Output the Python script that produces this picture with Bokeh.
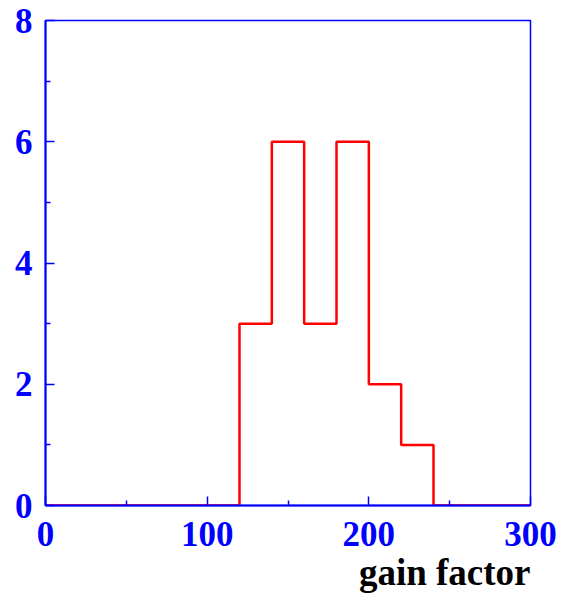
from bokeh.plotting import figure
from bokeh.models import Range1d, FixedTicker, Title
from bokeh.embed import file_html
from bokeh.resources import INLINE

# Histogram data (bin edges and counts)
bin_edges = [0, 20, 40, 60, 80, 100, 120, 140, 160, 180, 200, 220, 240, 260, 280, 300]
counts = [0, 0, 0, 0, 0, 0, 3, 6, 3, 6, 2, 1, 0, 0, 0]
x_major = [0, 100, 200, 300]
x_minor = [50, 150, 250]
y_major = [0, 2, 4, 6, 8]
y_minor = [1, 3, 5, 7]
x_title = "gain factor"

BLUE = "#0000ff"
FONT = "Liberation Serif"

p = figure(width=560, height=594, output_backend="svg", toolbar_location=None,
           x_range=Range1d(0, 300), y_range=Range1d(0, 8),
           min_border_left=45, min_border_right=30, min_border_top=20, min_border_bottom=89)
p.grid.visible = False
p.outline_line_color = BLUE
p.outline_line_width = 1.5
p.background_fill_color = "white"
p.border_fill_color = "white"

ys = counts + [counts[-1]]
p.step(x=bin_edges, y=ys, mode="after", line_color="#ff0000", line_width=2.5)

for ax, maj, mnr, so in ((p.xaxis[0], x_major, x_minor, 16), (p.yaxis[0], y_major, y_minor, 13)):
    ax.ticker = FixedTicker(ticks=maj, minor_ticks=mnr)
    ax.axis_line_color = BLUE
    ax.axis_line_width = 2
    ax.major_tick_line_color = BLUE
    ax.minor_tick_line_color = BLUE
    ax.major_tick_line_width = 1.5
    ax.minor_tick_line_width = 1.5
    ax.major_tick_in = 9
    ax.major_tick_out = 0
    ax.minor_tick_in = 5
    ax.minor_tick_out = 0
    ax.major_label_text_color = BLUE
    ax.major_label_text_font = FONT
    ax.major_label_text_font_style = "bold"
    ax.major_label_text_font_size = "35px"
    ax.major_label_standoff = so

t = Title(text=x_title, align="right", text_font=FONT, text_font_style="bold",
          text_font_size="37px", text_color="black", standoff=2, offset=0)
p.add_layout(t, "below")

open("out.html", "w").write(file_html(p, INLINE))
